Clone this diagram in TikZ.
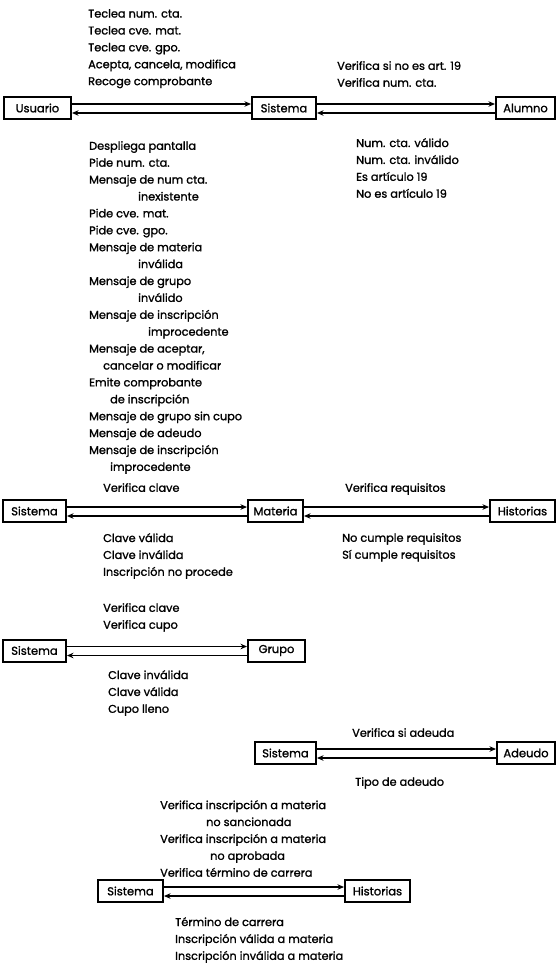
\documentclass[tikz,border=0pt]{standalone}
\usepackage{fontspec}
\setmainfont{Poppins}[FakeBold=1.3]
\usetikzlibrary{arrows.meta}
\begin{document}
\begin{tikzpicture}[x=1pt,y=-1pt,
  ent/.style={draw, line width=2pt, minimum height=22pt, inner sep=0pt,
    font=\fontsize{11.5}{14}\selectfont},
  lbl/.style={anchor=north west, inner sep=0pt, align=left,
    font=\fontsize{11.3}{16.9}\selectfont},
  flow/.style={line width=1.7pt, -{Stealth[length=6.5pt,width=5.5pt]}}
]
\useasboundingbox (0,0) rectangle (557,963);

% --- Usuario / Sistema / Alumno ---
\node[ent, minimum width=67pt] (usr) at (37.5,108) {Usuario};
\node[ent, minimum width=64pt] (sisA) at (284,108) {Sistema};
\node[ent, minimum width=59pt] (alu) at (525.5,108) {Alumno};
\draw[flow] ([yshift=4pt]usr.east) -- ([yshift=4pt]sisA.west);
\draw[flow] ([yshift=-5pt]sisA.west) -- ([yshift=-5pt]usr.east);
\draw[flow] ([yshift=4pt]sisA.east) -- ([yshift=4pt]alu.west);
\draw[flow] ([yshift=-5pt]alu.west) -- ([yshift=-5pt]sisA.east);

\node[lbl] (tusr) at (88,9) {Teclea num. cta.\\Teclea cve. mat.\\Teclea cve. gpo.\\
  Acepta, cancela, modifica\\Recoge comprobante};
\node[lbl] (talu) at (337,61) {Verifica si no es art. 19\\Verifica num. cta.};
\node[lbl] (ralu) at (356,138) {Num. cta. válido\\Num. cta. inválido\\
  Es artículo 19\\No es artículo 19};
\node[lbl] (rusr) at (89,141) {Despliega pantalla\\Pide num. cta.\\
  Mensaje de num cta.\\\hspace*{49pt}inexistente\\Pide cve. mat.\\Pide cve. gpo.\\
  Mensaje de materia\\\hspace*{49pt}inválida\\Mensaje de grupo\\\hspace*{49pt}inválido\\
  Mensaje de inscripción\\\hspace*{59pt}improcedente\\Mensaje de aceptar,\\
  \hspace*{14pt}cancelar o modificar\\Emite comprobante\\\hspace*{21pt}de inscripción\\
  Mensaje de grupo sin cupo\\Mensaje de adeudo\\Mensaje de inscripción\\
  \hspace*{21pt}improcedente};

% --- Sistema / Materia / Historias ---
\node[ent, minimum width=63pt] (sisB) at (34.5,511) {Sistema};
\node[ent, minimum width=55pt] (mat) at (275.5,511) {Materia};
\node[ent, minimum width=65pt] (hisB) at (522.5,511) {Historias};
\draw[flow] ([yshift=4pt]sisB.east) -- ([yshift=4pt]mat.west);
\draw[flow] ([yshift=-5pt]mat.west) -- ([yshift=-5pt]sisB.east);
\draw[flow] ([yshift=4pt]mat.east) -- ([yshift=4pt]hisB.west);
\draw[flow] ([yshift=-5pt]hisB.west) -- ([yshift=-5pt]mat.east);
\node[lbl] (tmat) at (103,483) {Verifica clave};
\node[lbl] (this) at (345,483) {Verifica requisitos};
\node[lbl] (rmat) at (103,533) {Clave válida\\Clave inválida\\Inscripción no procede};
\node[lbl] (rhis) at (342,533) {No cumple requisitos\\Sí cumple requisitos};

% --- Sistema / Grupo ---
\node[ent, minimum width=63pt] (sisC) at (34.5,650.5) {Sistema};
\node[ent, minimum width=57pt] (gpo) at (276.5,650.5) {Grupo};
\draw[flow] ([yshift=4pt]sisC.east) -- ([yshift=4pt]gpo.west);
\draw[flow] ([yshift=-5pt]gpo.west) -- ([yshift=-5pt]sisC.east);
\node[lbl] (tgpo) at (103,603) {Verifica clave\\Verifica cupo};
\node[lbl] (rgpo) at (108,670) {Clave inválida\\Clave válida\\Cupo lleno};

% --- Sistema / Adeudo ---
\node[ent, minimum width=61pt] (sisD) at (285.5,753) {Sistema};
\node[ent, minimum width=58pt] (ade) at (526,753) {Adeudo};
\draw[flow] ([yshift=4pt]sisD.east) -- ([yshift=4pt]ade.west);
\draw[flow] ([yshift=-5pt]ade.west) -- ([yshift=-5pt]sisD.east);
\node[lbl] (tade) at (352,728) {Verifica si adeuda};
\node[lbl] (rade) at (355,777) {Tipo de adeudo};

% --- Sistema / Historias ---
\node[ent, minimum width=65pt] (sisE) at (130.5,891) {Sistema};
\node[ent, minimum width=65pt] (hisE) at (377.5,891) {Historias};
\draw[flow] ([yshift=4pt]sisE.east) -- ([yshift=4pt]hisE.west);
\draw[flow] ([yshift=-5pt]hisE.west) -- ([yshift=-5pt]sisE.east);
\node[lbl] (this2) at (160,800) {Verifica inscripción a materia\\\hspace*{46pt}no sancionada\\
  Verifica inscripción a materia\\\hspace*{50pt}no aprobada\\Verifica término de carrera};
\node[lbl] (rhis2) at (175,917) {Término de carrera\\Inscripción válida a materia\\
  Inscripción inválida a materia};
\end{tikzpicture}
\end{document}
